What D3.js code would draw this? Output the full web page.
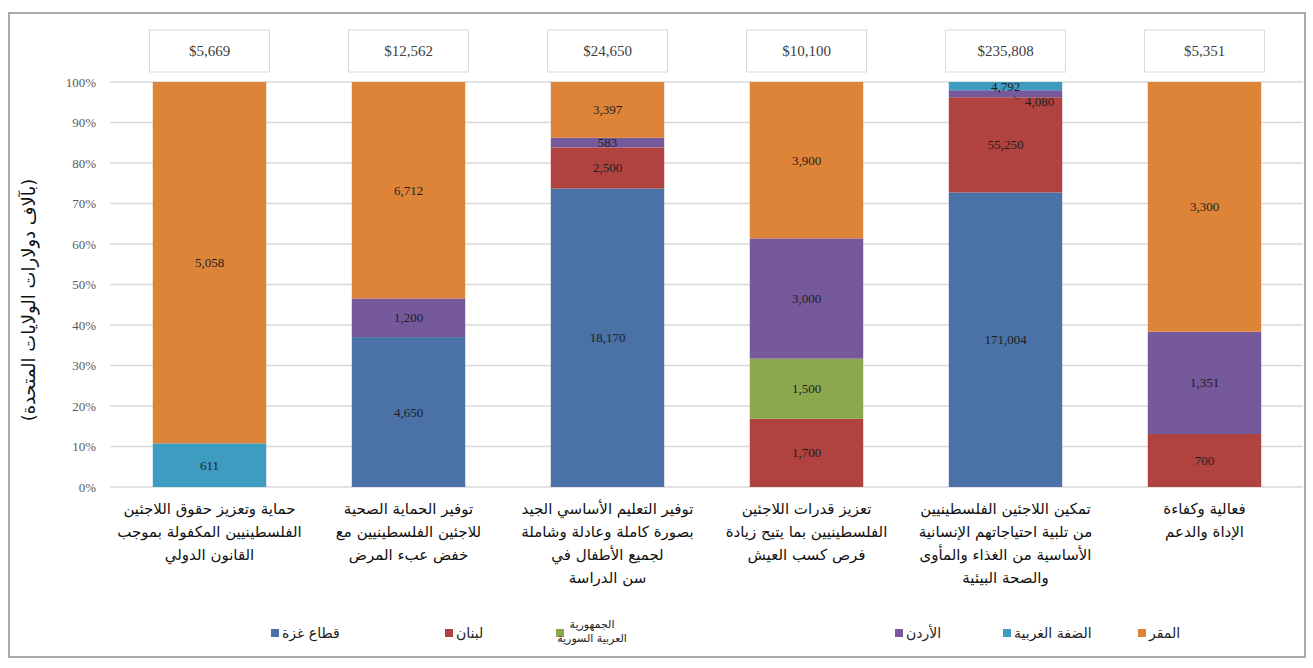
<!DOCTYPE html>
<html lang="ar">
<head>
    <meta charset="UTF-8">
    <title>Stacked 100% chart</title>
    <script src="https://d3js.org/d3.v7.min.js"></script>
    <style>
        body { margin: 0; background: #fff; font-family: "DejaVu Sans", sans-serif; }
        .tick-label { font-family: "Liberation Serif", serif; font-size: 13px; fill: #595959; }
        .seg-label { font-family: "Liberation Serif", serif; font-size: 13px; fill: #1e1e1e; text-anchor: middle; }
        .total-label { font-family: "Liberation Serif", serif; font-size: 15px; fill: #404040; text-anchor: middle; }
        .cat-label { font-family: "DejaVu Sans", sans-serif; font-size: 15px; fill: #111; text-anchor: middle; }
        .legend-label { font-family: "DejaVu Sans", sans-serif; font-size: 14px; fill: #222; }
    </style>
</head>
<body>
<script>
// categories (lines of each label)
const categories = [
    ["حماية وتعزيز حقوق اللاجئين", "الفلسطينيين المكفولة بموجب", "القانون الدولي"],
    ["توفير الحماية الصحية", "للاجئين الفلسطينيين مع", "خفض عبء المرض"],
    ["توفير التعليم الأساسي الجيد", "بصورة كاملة وعادلة وشاملة", "لجميع الأطفال في", "سن الدراسة"],
    ["تعزيز قدرات اللاجئين", "الفلسطينيين بما يتيح زيادة", "فرص كسب العيش"],
    ["تمكين اللاجئين الفلسطينيين", "من تلبية احتياجاتهم الإنسانية", "الأساسية من الغذاء والمأوى", "والصحة البيئية"],
    ["فعالية وكفاءة", "الإداة والدعم"]
];
const totals = ["$5,669", "$12,562", "$24,650", "$10,100", "$235,808", "$5,351"];

// series values (thousands of US$), bottom to top
const gaza     = [0, 4650, 18170, 0, 171004, 0];
const lebanon  = [0, 0, 2500, 1700, 55250, 700];
const syria    = [0, 0, 0, 1500, 0, 0];
const jordan   = [0, 1200, 583, 3000, 4080, 1351];
const westBank = [611, 0, 0, 0, 4792, 0];
const hq       = [5058, 6712, 3397, 3900, 0, 3300];

const seriesNames = ["قطاع غزة", "لبنان", "الجمهورية العربية السورية", "الأردن", "الضفة الغربية", "المقر"];
const seriesKeys = ["gaza", "lebanon", "syria", "jordan", "westBank", "hq"];
const colors = ["#4a72a6", "#b0433f", "#8ca84f", "#76599a", "#3d9cc0", "#de8438"];
const yTicks = [0, 0.1, 0.2, 0.3, 0.4, 0.5, 0.6, 0.7, 0.8, 0.9, 1];
const yTitle = "(بآلاف دولارات الولايات المتحدة)";

const W = 1313, H = 668;
const rows = categories.map((c, i) => ({
    idx: i, gaza: gaza[i], lebanon: lebanon[i], syria: syria[i],
    jordan: jordan[i], westBank: westBank[i], hq: hq[i]
}));

const svg = d3.select("body").append("svg").attr("width", W).attr("height", H);

// outer frame
svg.append("rect").attr("x", 9).attr("y", 13).attr("width", 1296).attr("height", 644)
    .attr("fill", "#fff").attr("stroke", "#a9a9a9").attr("stroke-width", 2);

const x = d3.scaleBand().domain(d3.range(categories.length)).range([110, 1304])
    .paddingInner(0.43).paddingOuter(0.215);
const y = d3.scaleLinear().domain([0, 1]).range([487, 82]);

// gridlines
svg.append("g").selectAll("line").data(yTicks).join("line")
    .attr("x1", 110).attr("x2", 1303)
    .attr("y1", d => y(d)).attr("y2", d => y(d))
    .attr("stroke", "#d9d9d9").attr("stroke-width", 1.6);

const yAxis = svg.append("g").attr("transform", "translate(96,0)")
    .call(d3.axisLeft(y).tickValues(yTicks).tickFormat(d3.format(".0%")).tickSize(0).tickPadding(0));
yAxis.select(".domain").remove();
yAxis.selectAll("text").attr("class", "tick-label");

svg.append("text")
    .attr("transform", "translate(35,300) rotate(-90)")
    .attr("text-anchor", "middle").attr("direction", "rtl")
    .style("font-family", "DejaVu Sans").style("font-size", "18px").attr("fill", "#111")
    .text(yTitle);

const stack = d3.stack().keys(seriesKeys).offset(d3.stackOffsetExpand);
const stacked = stack(rows);

const layers = svg.append("g").selectAll("g").data(stacked).join("g")
    .attr("fill", (d, i) => colors[i]);

layers.selectAll("rect").data(d => d).join("rect")
    .attr("x", d => x(d.data.idx))
    .attr("width", x.bandwidth())
    .attr("y", d => y(d[1]))
    .attr("height", d => Math.max(0, y(d[0]) - y(d[1])));

// segment labels
stacked.forEach((layer, li) => {
    layer.forEach(d => {
        const v = d.data[layer.key];
        if (!v) return;
        const h = y(d[0]) - y(d[1]);
        let cx = x(d.data.idx) + x.bandwidth() / 2;
        let cy = (y(d[0]) + y(d[1])) / 2 + 4.5;
        // thin segment sitting under another thin segment: move label aside
        const above = stacked[li + 1];
        const hAbove = above ? y(above[d.data.idx][0]) - y(above[d.data.idx][1]) : 0;
        if (h < 9 && hAbove > 0 && hAbove < 12) {
            cx += 34; cy += 8;
            svg.append("line").attr("x1", cx - 20).attr("x2", cx - 26)
                .attr("y1", cy - 6).attr("y2", cy - 10)
                .attr("stroke", "#333").attr("stroke-width", 0.8);
        }
        svg.append("text").attr("class", "seg-label")
            .attr("x", cx).attr("y", cy)
            .text(d3.format(",")(v));
    });
});

// total boxes
const tot = svg.append("g").selectAll("g").data(totals).join("g")
    .attr("transform", (d, i) => `translate(${x(i) + x.bandwidth() / 2},0)`);
tot.append("rect").attr("x", -60).attr("y", 30).attr("width", 120).attr("height", 42)
    .attr("fill", "#fff").attr("stroke", "#d9d9d9").attr("stroke-width", 1);
tot.append("text").attr("class", "total-label").attr("y", 56).text(d => d);

// category labels
const cat = svg.append("g").selectAll("text").data(categories).join("text")
    .attr("class", "cat-label").attr("direction", "rtl")
    .attr("transform", (d, i) => `translate(${x(i) + x.bandwidth() / 2},514)`);
cat.selectAll("tspan").data(d => d).join("tspan")
    .attr("x", 0).attr("y", (d, i) => i * 23)
    .text(d => d);

// legend
const legendX = [275, 449, 560, 899, 1007, 1142];
const leg = svg.append("g").selectAll("g").data(seriesNames).join("g")
    .attr("transform", (d, i) => `translate(${legendX[i]},633)`);
leg.append("rect").attr("x", -4).attr("y", -4).attr("width", 8).attr("height", 8)
    .attr("fill", (d, i) => colors[i]);
leg.each(function(d, i) {
    const g = d3.select(this);
    if (i === 2) {
        const t = g.append("text").attr("class", "legend-label").attr("direction", "rtl")
            .attr("text-anchor", "middle").style("font-size", "11px");
        t.append("tspan").attr("x", 32).attr("y", -5).text("الجمهورية");
        t.append("tspan").attr("x", 32).attr("y", 9).text("العربية السورية");
    } else {
        g.append("text").attr("class", "legend-label").attr("direction", "rtl")
            .attr("text-anchor", "end").attr("x", 7).attr("y", 5).text(d);
    }
});
</script>
</body>
</html>
